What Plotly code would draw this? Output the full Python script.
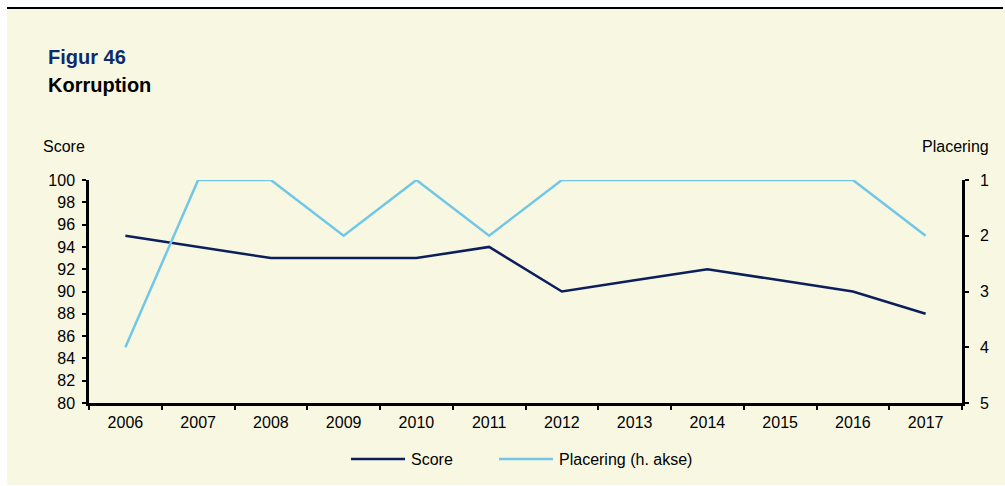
import plotly.graph_objects as go

# Data
years = ["2006", "2007", "2008", "2009", "2010", "2011",
         "2012", "2013", "2014", "2015", "2016", "2017"]
score = [95, 94, 93, 93, 93, 94, 90, 91, 92, 91, 90, 88]
placering = [4, 1, 1, 2, 1, 2, 1, 1, 1, 1, 1, 2]

W, H = 1005, 486
L, R, T, B = 89, 962, 180, 403

NAVY = "#0c1e5b"
LIGHT = "#72c6e8"
CREAM = "#f8f8e2"
FONT = "Liberation Sans, Arial, sans-serif"


def px(x):
    return (x - L) / (R - L)


def py(y):
    return (B - y) / (B - T)


fig = go.Figure()
fig.add_trace(go.Scatter(x=years, y=score, mode="lines", name="Score",
                         line=dict(color=NAVY, width=2.5), yaxis="y",
                         showlegend=False))
fig.add_trace(go.Scatter(x=years, y=placering, mode="lines",
                         name="Placering (h. akse)",
                         line=dict(color=LIGHT, width=2.5), yaxis="y2",
                         showlegend=False))

shapes = [
    dict(type="rect", xref="paper", yref="paper", x0=px(7), x1=px(1005),
         y0=py(485), y1=py(9), fillcolor=CREAM, line=dict(width=0),
         layer="below"),
    dict(type="line", xref="paper", yref="paper", x0=px(7), x1=px(1003),
         y0=py(8), y1=py(8), line=dict(color="black", width=2)),
    # legend keys
    dict(type="line", xref="paper", yref="paper", x0=px(351), x1=px(405),
         y0=py(459), y1=py(459), line=dict(color=NAVY, width=2.5)),
    dict(type="line", xref="paper", yref="paper", x0=px(499), x1=px(553),
         y0=py(459), y1=py(459), line=dict(color=LIGHT, width=2.5)),
]

annotations = [
    dict(text="<b>Figur 46</b>", x=px(46), y=py(57), xref="paper", yref="paper",
         xanchor="left", yanchor="middle", showarrow=False,
         font=dict(family=FONT, size=20, color="#0d2a6e")),
    dict(text="<b>Korruption</b>", x=px(46), y=py(85), xref="paper", yref="paper",
         xanchor="left", yanchor="middle", showarrow=False,
         font=dict(family=FONT, size=20, color="black")),
    dict(text="Score", x=px(41), y=py(146), xref="paper", yref="paper",
         xanchor="left", yanchor="middle", showarrow=False,
         font=dict(family=FONT, size=16, color="black")),
    dict(text="Placering", x=px(991), y=py(146), xref="paper", yref="paper",
         xanchor="right", yanchor="middle", showarrow=False,
         font=dict(family=FONT, size=16, color="black")),
    dict(text="Score", x=px(409), y=py(459), xref="paper", yref="paper",
         xanchor="left", yanchor="middle", showarrow=False,
         font=dict(family=FONT, size=16, color="black")),
    dict(text="Placering (h. akse)", x=px(557), y=py(459), xref="paper",
         yref="paper", xanchor="left", yanchor="middle", showarrow=False,
         font=dict(family=FONT, size=16, color="black")),
]

fig.update_layout(
    width=W, height=H,
    margin=dict(l=L, r=W - R, t=T, b=H - B, pad=0),
    paper_bgcolor="white",
    plot_bgcolor="rgba(0,0,0,0)",
    font=dict(family=FONT, size=16, color="black"),
    shapes=shapes,
    annotations=annotations,
    xaxis=dict(type="category", range=[-0.5, 11.5], showgrid=False,
               showline=True, linecolor="black", linewidth=2.5,
               ticks="outside", ticklen=4, tickwidth=2, tickcolor="black",
               tickson="boundaries", zeroline=False, ticklabelstandoff=3,
               tickfont=dict(size=16)),
    yaxis=dict(range=[80, 100], dtick=2, showgrid=False, showline=True,
               linecolor="black", linewidth=2.5, ticks="outside", ticklen=4,
               tickwidth=2, tickcolor="black", zeroline=False,
               ticklabelstandoff=4, tickfont=dict(size=16)),
    yaxis2=dict(range=[5, 1], dtick=1, overlaying="y", side="right",
                showgrid=False, showline=True, linecolor="black",
                linewidth=2.5, ticks="outside", ticklen=4, tickwidth=2,
                tickcolor="black", zeroline=False, ticklabelstandoff=8,
                tickfont=dict(size=16)),
)

fig.write_html("out.html")
